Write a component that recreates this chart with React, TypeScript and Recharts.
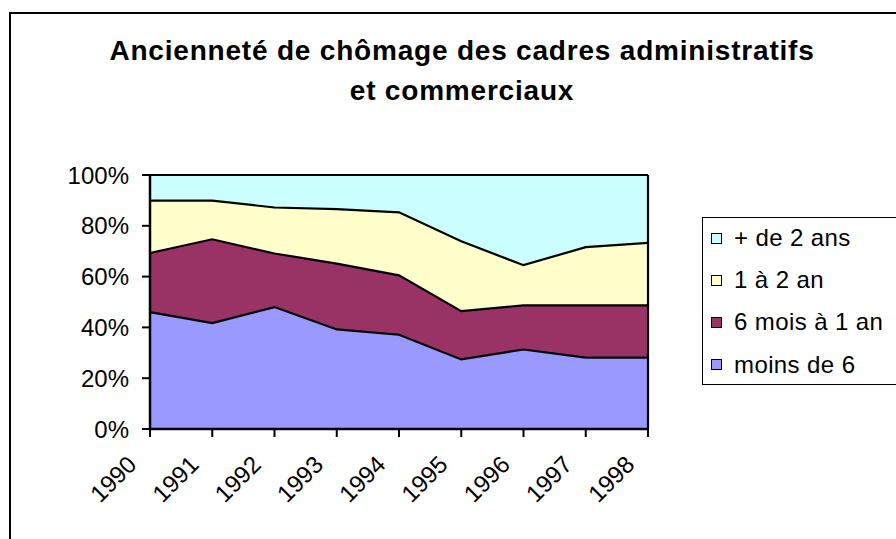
import { AreaChart, Area, XAxis, YAxis, ReferenceLine } from "recharts";

const YEARS = ["1990", "1991", "1992", "1993", "1994", "1995", "1996", "1997", "1998"];
const MOINS_DE_6 = [46.0, 41.7, 48.0, 39.2, 37.1, 27.4, 31.3, 28.1, 28.1];
const SIX_MOIS_A_1_AN = [23.3, 33.0, 21.1, 25.9, 23.4, 19.0, 17.4, 20.6, 20.6];
const UN_A_2_AN = [20.6, 15.2, 18.1, 21.5, 24.8, 27.5, 15.8, 22.9, 24.6];
const PLUS_DE_2_ANS = [10.1, 10.1, 12.8, 13.4, 14.7, 26.1, 35.5, 28.4, 26.7];
const Y_TICKS = [0, 0.2, 0.4, 0.6, 0.8, 1];

// bottom to top, as stacked
const SERIES = [
    { key: "moins", name: "moins de 6", color: "#9999ff", values: MOINS_DE_6 },
    { key: "six", name: "6 mois à 1 an", color: "#993366", values: SIX_MOIS_A_1_AN },
    { key: "un", name: "1 à 2 an", color: "#ffffcc", values: UN_A_2_AN },
    { key: "plus", name: "+ de 2 ans", color: "#ccffff", values: PLUS_DE_2_ANS },
];

const data = YEARS.map((year, i) => {
    const row: any = { year };
    SERIES.forEach((s) => {
        row[s.key] = s.values[i];
    });
    return row;
});

const FONT = '"Liberation Sans", Arial, sans-serif';

const YearTick = ({ x, y, payload }: any) => {
    const tx = x - 12;
    const ty = y + 29;
    return (
        <text
            x={tx}
            y={ty}
            transform={`rotate(-45, ${tx}, ${ty})`}
            textAnchor="end"
            fontSize={24}
            fontFamily={FONT}
            fill="#000"
        >
            {payload.value}
        </text>
    );
};

export default function App() {
    return (
        <div
            style={{
                position: "absolute",
                left: 0,
                top: 0,
                width: 896,
                height: 539,
                overflow: "hidden",
                background: "#fff",
                fontFamily: FONT,
            }}
        >
            <div
                style={{
                    position: "absolute",
                    left: 9,
                    top: 12,
                    width: 1000,
                    height: 600,
                    borderLeft: "2px solid #000",
                    borderTop: "2px solid #000",
                }}
            />
            <div
                style={{
                    position: "absolute",
                    left: 0,
                    top: 31,
                    width: 924,
                    textAlign: "center",
                    fontSize: 28,
                    fontWeight: "bold",
                    lineHeight: "40px",
                    letterSpacing: 0.8,
                    color: "#000",
                }}
            >
                Ancienneté de chômage des cadres administratifs
                <br />
                et commerciaux
            </div>

            <AreaChart
                width={896}
                height={539}
                data={data}
                stackOffset="expand"
                margin={{ top: 175, right: 248, left: 0, bottom: 0 }}
                style={{ position: "absolute", left: 0, top: 0 }}
            >
                {/* fills first, then the outlines on top so no fill hides half a line */}
                {SERIES.map((s) => (
                    <Area
                        key={`fill-${s.key}`}
                        type="linear"
                        dataKey={s.key}
                        name={s.name}
                        stackId="fill"
                        fill={s.color}
                        fillOpacity={1}
                        stroke="none"
                        isAnimationActive={false}
                    />
                ))}
                {SERIES.map((s) => (
                    <Area
                        key={`line-${s.key}`}
                        type="linear"
                        dataKey={s.key}
                        stackId="line"
                        fill="none"
                        stroke="#000"
                        strokeWidth={2.2}
                        legendType="none"
                        isAnimationActive={false}
                    />
                ))}
                <ReferenceLine x="1998" stroke="#000" strokeWidth={2.2} />
                <XAxis
                    dataKey="year"
                    height={110}
                    interval={0}
                    axisLine={{ stroke: "#000", strokeWidth: 2.5 }}
                    tickLine={{ stroke: "#000", strokeWidth: 2 }}
                    tickSize={8}
                    tickMargin={0}
                    tick={<YearTick />}
                />
                <YAxis
                    width={150}
                    domain={[0, 1]}
                    ticks={Y_TICKS}
                    tickFormatter={(v: number) => `${Math.round(v * 100)}%`}
                    axisLine={{ stroke: "#000", strokeWidth: 2.5 }}
                    tickLine={{ stroke: "#000", strokeWidth: 2 }}
                    tickSize={8}
                    tickMargin={13}
                    tick={{ fill: "#000", fontSize: 24, fontFamily: FONT }}
                />
            </AreaChart>

            <div
                style={{
                    position: "absolute",
                    left: 702,
                    top: 217,
                    width: 220,
                    height: 166,
                    border: "1.5px solid #000",
                    background: "#fff",
                }}
            >
                <div style={{ marginTop: -1 }}>
                    {[...SERIES].reverse().map((s) => (
                        <div
                            key={s.key}
                            style={{
                                display: "flex",
                                alignItems: "center",
                                height: 42.2,
                                lineHeight: "42.2px",
                                fontSize: 24,
                                color: "#000",
                                whiteSpace: "nowrap",
                            }}
                        >
                            <span
                                style={{
                                    display: "inline-block",
                                    width: 9,
                                    height: 9,
                                    marginLeft: 8,
                                    marginRight: 12,
                                    background: s.color,
                                    border: "1px solid #000",
                                }}
                            />
                            <span style={{ letterSpacing: 0.4 }}>{s.name}</span>
                        </div>
                    ))}
                </div>
            </div>
        </div>
    );
}
